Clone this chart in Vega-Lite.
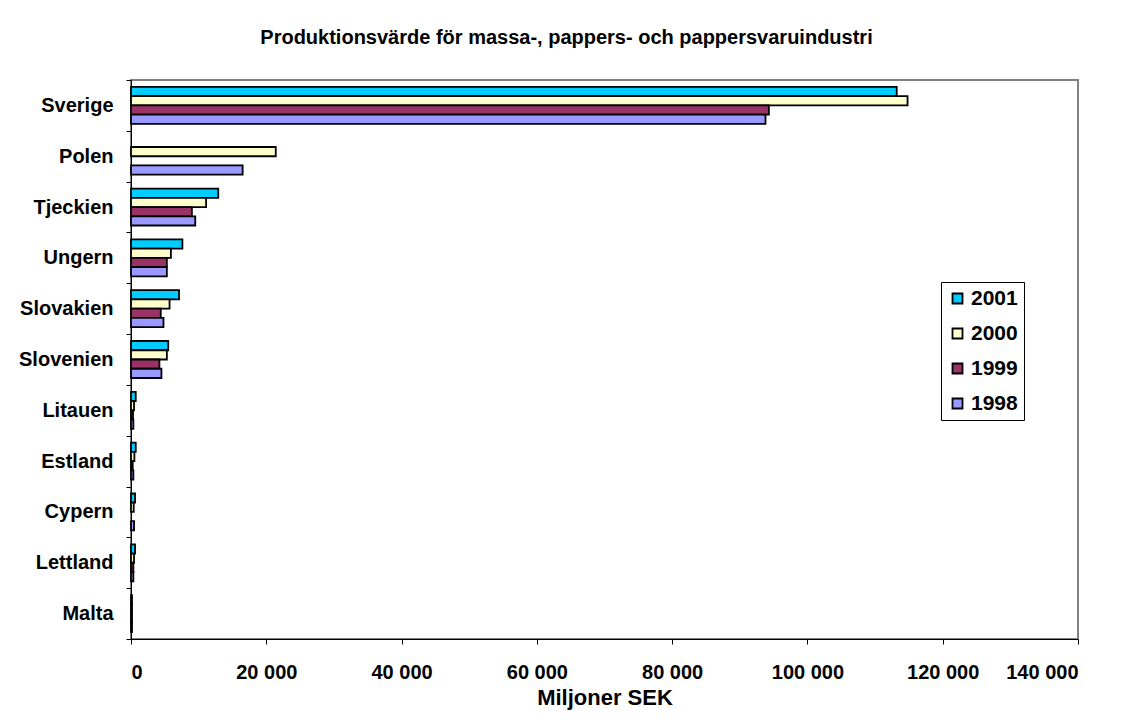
{
  "$schema": "https://vega.github.io/schema/vega-lite/v6.json",
  "width": 947,
  "height": 559,
  "autosize": {"type": "none"},
  "padding": {"left": 131, "top": 80, "right": 55, "bottom": 89},
  "background": "white",
  "title": {
    "text": "Produktionsvärde för massa-, pappers- och pappersvaruindustri",
    "font": "Liberation Sans",
    "fontSize": 20,
    "fontWeight": "bold",
    "color": "black",
    "anchor": "middle",
    "dx": -38,
    "offset": 22
  },
  "config": {
    "view": {"stroke": "#808080", "strokeWidth": 2},
    "font": "Liberation Sans"
  },
  "data": {
    "values": [
      {"land": "Sverige", "year": "2001", "value": 113200},
      {"land": "Sverige", "year": "2000", "value": 114800},
      {"land": "Sverige", "year": "1999", "value": 94300},
      {"land": "Sverige", "year": "1998", "value": 93800},
      {"land": "Polen", "year": "2000", "value": 21400},
      {"land": "Polen", "year": "1998", "value": 16500},
      {"land": "Tjeckien", "year": "2001", "value": 12900},
      {"land": "Tjeckien", "year": "2000", "value": 11100},
      {"land": "Tjeckien", "year": "1999", "value": 9000},
      {"land": "Tjeckien", "year": "1998", "value": 9500},
      {"land": "Ungern", "year": "2001", "value": 7600},
      {"land": "Ungern", "year": "2000", "value": 5900},
      {"land": "Ungern", "year": "1999", "value": 5300},
      {"land": "Ungern", "year": "1998", "value": 5300},
      {"land": "Slovakien", "year": "2001", "value": 7100},
      {"land": "Slovakien", "year": "2000", "value": 5700},
      {"land": "Slovakien", "year": "1999", "value": 4400},
      {"land": "Slovakien", "year": "1998", "value": 4800},
      {"land": "Slovenien", "year": "2001", "value": 5500},
      {"land": "Slovenien", "year": "2000", "value": 5300},
      {"land": "Slovenien", "year": "1999", "value": 4200},
      {"land": "Slovenien", "year": "1998", "value": 4500},
      {"land": "Litauen", "year": "2001", "value": 700},
      {"land": "Litauen", "year": "2000", "value": 450},
      {"land": "Litauen", "year": "1999", "value": 300},
      {"land": "Litauen", "year": "1998", "value": 350},
      {"land": "Estland", "year": "2001", "value": 700},
      {"land": "Estland", "year": "2000", "value": 500},
      {"land": "Estland", "year": "1999", "value": 250},
      {"land": "Estland", "year": "1998", "value": 350},
      {"land": "Cypern", "year": "2001", "value": 600},
      {"land": "Cypern", "year": "2000", "value": 400},
      {"land": "Cypern", "year": "1998", "value": 450},
      {"land": "Lettland", "year": "2001", "value": 600},
      {"land": "Lettland", "year": "2000", "value": 450},
      {"land": "Lettland", "year": "1999", "value": 350},
      {"land": "Lettland", "year": "1998", "value": 350},
      {"land": "Malta", "year": "2001", "value": 150},
      {"land": "Malta", "year": "2000", "value": 150},
      {"land": "Malta", "year": "1999", "value": 150},
      {"land": "Malta", "year": "1998", "value": 150}
    ]
  },
  "mark": {"type": "bar", "stroke": "black", "strokeWidth": 1.8},
  "encoding": {
    "y": {
      "field": "land",
      "type": "nominal",
      "sort": ["Sverige", "Polen", "Tjeckien", "Ungern", "Slovakien", "Slovenien", "Litauen", "Estland", "Cypern", "Lettland", "Malta"],
      "scale": {"paddingInner": 0, "paddingOuter": 0},
      "axis": {
        "title": null,
        "tickBand": "extent",
        "domainColor": "black",
        "tickColor": "black",
        "tickSize": 5,
        "labelPadding": 13,
        "labelFontSize": 20,
        "labelFontWeight": "bold",
        "labelColor": "black",
        "grid": false
      }
    },
    "yOffset": {
      "field": "year",
      "type": "nominal",
      "sort": ["2001", "2000", "1999", "1998"],
      "scale": {"paddingInner": 0, "paddingOuter": 0.75}
    },
    "x": {
      "field": "value",
      "type": "quantitative",
      "scale": {"domain": [0, 140000], "nice": false},
      "axis": {
        "title": "Miljoner SEK",
        "titleFontSize": 22,
        "titleFontWeight": "bold",
        "titleColor": "black",
        "titlePadding": 5,
        "values": [0, 20000, 40000, 60000, 80000, 100000, 120000, 140000],
        "labelExpr": "replace(format(datum.value, ','), ',', ' ')",
        "labelFontSize": 20,
        "labelFontWeight": "bold",
        "labelColor": "black",
        "labelPadding": 18,
        "domainColor": "black",
        "tickColor": "black",
        "tickSize": 5,
        "grid": false
      }
    },
    "fill": {
      "field": "year",
      "type": "nominal",
      "sort": ["2001", "2000", "1999", "1998"],
      "scale": {"domain": ["2001", "2000", "1999", "1998"], "range": ["#00CCFF", "#FFFFCC", "#993366", "#9999FF"]},
      "legend": {
        "title": null,
        "orient": "none",
        "legendX": 810,
        "legendY": 202,
        "strokeColor": "black",
        "fillColor": "white",
        "padding": 6,
        "symbolType": "square",
        "symbolSize": 100,
        "symbolStrokeColor": "black",
        "symbolStrokeWidth": 1.8,
        "symbolOpacity": 1,
        "labelFontSize": 21,
        "labelFontWeight": "bold",
        "labelColor": "black",
        "labelOffset": 3,
        "rowPadding": 13
      }
    }
  }
}
